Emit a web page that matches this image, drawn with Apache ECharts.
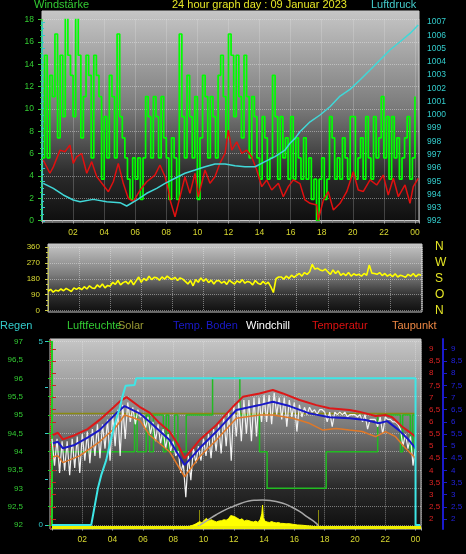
<!DOCTYPE html>
<html><head><meta charset="utf-8">
<script src="https://cdn.jsdelivr.net/npm/echarts@6/dist/echarts.min.js"></script>
<style>html,body{margin:0;padding:0;background:#000}#c{width:466px;height:554px}</style>
</head><body><div id="c"></div>
<script>
// ---------- top panel: wind (km/h) and pressure (hPa) ----------
// gust values every 10 minutes, 00:00 .. 24:00
const gust = [
 5.6,14.8,5.6,13,11.1,16.7,
 7.4,14.8,9.3,18.5,14.8,13,
 9.3,18.5,14.8,7.4,11.1,14.8,
 13,5.6,14.8,13,11.1,3.7,
 9.3,5.6,13,11.1,5.6,16.7,
 9.3,7.4,5.6,3.7,1.9,5.6,
 3.7,5.6,1.9,5.6,11.1,9.3,
 5.6,11.1,9.3,5.6,11.1,7.4,
 5.6,1.9,7.4,5.6,1.9,16.7,
 9.3,5.6,13,9.3,5.6,11.1,
 1.9,7.4,13,11.1,5.6,11.1,
 9.3,5.6,13,14.8,11.1,7.4,
 16.7,14.8,9.3,14.8,11.1,7.4,
 14.8,11.1,5.6,11.1,9.3,5.6,
 3.7,9.3,7.4,3.7,5.6,13,
 9.3,3.7,9.3,5.6,7.4,3.7,
 9.3,3.7,7.4,5.6,3.7,7.4,
 3.7,5.6,1.9,3.7,0,3.7,
 5.6,1.9,3.7,9.3,7.4,3.7,
 5.6,3.7,7.4,5.6,3.7,9.3,
 9.3,3.7,5.6,7.4,3.7,9.3,
 5.6,3.7,9.3,5.6,7.4,11.1,
 5.6,9.3,3.7,9.3,5.6,7.4,
 3.7,5.6,7.4,9.3,3.7,5.6,
 11.1];
const windAvgT = [0.08,0.51,0.73,1.16,1.48,1.8,2.01,2.23,2.55,2.88,3.2,3.52,3.94,4.27,4.59,4.91,5.23,5.55,5.88,6.31,6.74,7.27,7.59,7.92,8.13,8.24,8.56,8.88,9.2,9.52,9.85,10.06,10.49,10.81,11.13,11.45,11.78,11.99,12.21,12.53,12.85,13.17,13.49,13.82,14.14,14.46,14.78,15.21,15.53,15.85,16.17,16.6,16.92,17.25,17.68,17.78,18.1,18.42,18.75,19.18,19.61,20.03,20.35,20.68,21.11,21.54,21.96,22.28,22.61,22.93,23.36,23.68,23.89,24.21];
const windAvgV = [5.42,4.23,4.8,6.3,6.16,6.76,5.12,5.7,6.0,4.23,5.27,3.93,3.18,2.58,3.47,5.12,3.33,1.99,1.68,2.73,3.47,4.07,4.97,3.92,2.73,1.84,0.34,2.13,3.92,2.43,4.23,2.13,4.52,3.33,3.92,5.12,6.02,8.1,6.31,7.05,6.02,6.31,5.71,4.52,3.03,3.63,2.73,3.33,2.13,3.03,3.63,3.3,1.84,1.54,1.39,0.04,1.8,2.58,0.94,1.54,2.58,4.37,2.73,2.6,3.63,3.18,4.07,2.28,3.78,2.13,3.18,1.54,3.03,3.78];
const presT = [0.08,0.73,1.37,2.01,2.45,3.3,4.16,5.02,5.45,6.09,6.74,7.38,7.92,8.56,9.2,9.85,10.49,11.13,11.78,12.42,13.06,13.71,14.35,14.99,15.64,15.96,16.28,16.6,17.25,17.89,18.53,19.18,19.82,20.46,21.11,21.75,22.39,23.04,23.68,24.21];
const presV = [994.84,994.46,993.96,993.58,993.45,993.63,993.45,993.38,993.13,993.58,994.09,994.46,994.84,995.22,995.6,995.84,996.09,996.3,996.3,996.17,996.09,996.09,996.47,996.85,997.35,997.86,998.23,998.73,999.48,999.99,1000.61,1001.42,1001.92,1002.63,1003.38,1004.13,1004.89,1005.51,1006.14,1006.77];

// ---------- middle panel: wind direction (deg), every 10 minutes ----------
const windDir = [
 108,120,104,115,110,122,
 112,125,117,108,128,120,
 130,118,135,122,140,128,
 125,145,132,150,128,142,
 138,160,148,170,145,158,
 165,150,172,145,168,190,
 160,182,170,195,175,188,
 185,172,190,178,195,183,
 176,188,170,185,178,165,
 150,170,140,175,160,185,
 165,180,158,172,150,168,
 170,155,165,148,172,160,
 150,168,158,175,155,165,
 160,145,170,155,148,165,
 150,160,135,102,180,190,
 190,178,195,182,200,188,
 200,210,195,215,205,220,
 262,235,240,230,225,235,
 220,205,230,210,225,200,
 210,198,215,195,208,200,
 205,195,210,200,258,212,
 210,205,215,198,210,195,
 205,192,208,190,200,195,
 188,205,195,210,192,205,
 200];
const dirLabels = {0:'N',90:'O',180:'S',270:'W',360:'N'};

// ---------- bottom panel ----------
const regenT = [0,2.59,3.03,3.25,3.58,3.8,4.13,4.47,4.68,4.86,5.45,5.56,24.0,24.0,24.3];
const regenV = [0,0,1.0,1.36,1.77,2.18,2.73,3.19,3.55,3.8,3.82,4.0,4.0,0,0];
const humT = [0,5.45,5.62,6.22,6.44,6.7,7.35,7.54,7.7,8.09,8.31,8.86,10.6,12.4,13.7,14.2,18.1,21.5,23.0,23.15,23.65,23.8,23.95,24.05];
const humV = [94,95,94,95,94,95,94,95,94,95,94,95,96,95,94,93,94,95,94,95,94,95,94,94];
const humRefT = [0,24.05];
const humRefV = [95.04,95.04];
const tempT = [0.06,0.39,0.72,1.49,2.35,3.14,3.8,4.46,4.92,5.78,6.44,7.1,7.76,8.29,8.75,9.09,9.74,10.85,11.94,12.6,13.7,14.58,15.24,16.34,17.45,18.32,19.64,20.26,21.36,22.02,22.46,23.12,23.56,24.0];
const tempV = [5.46,5.55,5.28,5.45,5.7,6.08,6.45,6.83,7.02,6.62,6.38,5.95,5.6,5.1,4.5,4.75,5.25,5.87,6.62,7.03,7.17,7.31,7.17,6.9,6.69,6.56,6.49,6.42,6.24,6.28,6.19,5.8,5.6,5.39];
const bodenT = [0.06,0.39,0.72,1.49,2.35,3.14,4.24,4.79,5.78,6.44,7.76,8.75,9.74,10.85,12.17,13.7,14.58,15.68,17.0,18.32,19.64,20.7,21.58,22.13,22.9,23.56,24.0];
const bodenV = [5.12,5.18,4.91,5.05,5.35,5.66,6.35,6.65,6.35,6.0,5.25,4.22,4.91,5.6,6.49,6.69,6.83,6.65,6.35,6.19,6.15,6.08,5.94,6.03,5.66,5.25,4.91];
const taupT = [0.06,0.39,0.72,1.82,3.14,4.24,4.79,5.78,6.44,7.76,8.75,9.74,10.85,12.17,13.7,14.58,15.9,17.0,17.88,18.77,19.64,20.48,21.36,22.02,22.68,23.34,24.0];
const taupV = [4.56,4.6,4.32,4.6,5.18,5.8,6.28,6.08,5.46,4.77,3.74,4.56,5.25,6.15,6.28,6.28,6.15,5.94,5.66,5.73,5.66,5.6,5.39,5.6,5.39,4.91,4.5];
// windchill every 10 minutes
const windchill = [
 5.3,4.2,5.3,3.9,5.2,4.0,
 5.2,3.8,5.3,4.1,5.4,3.9,
 5.5,4.4,5.6,4.3,5.7,4.6,
 5.9,4.5,5.9,4.9,6.1,4.4,
 6.3,5.0,6.5,4.6,6.7,5.3,
 6.8,6.0,6.6,5.9,6.5,6.2,
 6.3,5.7,6.2,5.5,6.0,5.2,
 5.9,5.1,5.7,4.9,5.5,4.8,
 5.2,4.6,4.8,3.9,4.3,2.9,
 4.6,3.6,4.9,4.3,5.0,4.4,
 5.3,4.6,5.5,4.5,5.7,4.8,
 5.9,4.7,6.2,5.0,6.4,4.4,
 6.7,5.4,6.8,5.2,6.9,5.5,
 6.9,5.2,7.0,5.4,7.0,6.0,
 7.1,6.0,7.1,5.9,7.2,6.3,
 7.0,6.1,7.0,5.8,6.9,6.2,
 6.8,5.6,6.7,6.2,6.6,6.3,
 6.6,6.4,6.5,6.3,6.5,6.5,
 6.4,6.0,6.4,5.8,6.4,6.3,
 6.4,6.3,6.4,6.2,6.3,6.3,
 6.3,6.2,6.3,6.0,6.3,5.7,
 6.1,6.1,6.1,5.8,6.2,5.5,
 6.2,6.1,6.1,6.0,6.0,5.9,
 5.7,5.0,5.5,4.9,5.4,4.2,
 5.0];
const solarT = [8.9,9.1,9.3,9.5,9.6,9.75,9.9,10.05,10.2,10.35,10.5,10.65,10.85,11.0,11.2,11.35,11.5,11.65,11.8,11.9,12.05,12.2,12.4,12.55,12.7,12.85,13.0,13.15,13.3,13.45,13.6,13.75,13.85,13.9,13.95,14.05,14.2,14.35,14.5,14.65,14.8,14.95,15.1,15.25,15.45,15.65,15.9,16.2,16.5,16.8,17.1,17.4,17.6];
const solarV = [0,15,25,40,35,65,50,80,100,70,85,75,60,70,75,85,80,95,130,115,120,105,85,95,70,80,75,65,60,70,55,90,150,245,110,70,60,55,65,55,50,55,45,45,40,42,35,28,25,20,15,8,0];
const solarMaxT = [9.5,10.0,10.5,10.85,11.4,11.95,12.5,13.0,13.5,13.9,14.4,15.24,15.8,16.34,16.9,17.45,17.66];
const solarMaxV = [0,50,105,140,190,230,265,290,298,300,295,265,225,175,110,45,0];
const solarBaseT = [0,24.36];
const solarBaseV = [0,0];
const sunrise = 9.74, sunset = 17.55, sunMarkH = 190;

const zip = (t, v) => t.map((x, i) => [x, v[i]]);
const every10 = v => v.map((y, i) => [i / 6, y]);
const comma = v => String(+v.toFixed(2)).replace('.', ',');
const plain = v => String(Math.round(v));
const hourLabel = v => {
  const r = Math.round(v);
  if (v <= 0 || Math.abs(v - r) > 1e-6 || r % 2) return '';
  const h = r % 24; return (h < 10 ? '0' : '') + h;
};

const FONT = 'Liberation Sans';
const bg = {type:'linear',x:0,y:0,x2:0,y2:1,colorStops:[
  {offset:0,color:'#c6c6c6'},{offset:0.45,color:'#7c7c7c'},{offset:0.78,color:'#2a2a2a'},{offset:1,color:'#0e0e0e'}]};
const dots = {show:true,lineStyle:{color:'rgba(235,235,235,0.45)',type:'dotted',width:1}};
const G = (left, top, width, height, extra) => Object.assign({left, top, width, height, outerBoundsMode:'none', containLabel:false}, extra||{});
const bgGrid = (l,t,w,h) => G(l,t,w,h,{show:true,backgroundColor:bg,borderColor:'#c8c8c8',borderWidth:1});
const lbl = (color, size, extra) => Object.assign({color, fontSize:size, fontFamily:FONT}, extra||{});
const hidX = (gi, max) => ({type:'value', gridIndex:gi, min:0, max, show:false, splitLine:{show:false}});
const hidY = (gi, min, max) => ({type:'value', gridIndex:gi, min, max, show:false, splitLine:{show:false}});
const tt = (text, left, top, color) => ({text, left, top, padding:0, textStyle:{color, fontSize:11, fontWeight:'normal', fontFamily:FONT}});

const option = {
  backgroundColor:'#000',
  animation:false,
  title:[
    tt('Windstärke',34,-1,'#33cc33'),
    tt('24 hour graph day : 09 Januar 2023',172,-1,'#e6e626'),
    tt('Luftdruck',371,-1,'#44cccc'),
    tt('Regen',0,320,'#33cccc'),
    tt('Luftfeuchte',67,320,'#33cc33'),
    tt('Solar',118,320,'#999933'),
    tt('Temp. Boden',173,320,'#1a1acc'),
    tt('Windchill',246,320,'#ffffff'),
    tt('Temperatur',312,320,'#dd1111'),
    tt('Taupunkt',392,320,'#ee8844')
  ],
  grid:[
    bgGrid(42,11,377,211),       //0
    G(42,19.5,377,201),          //1 wind
    G(42,22,377,199),            //2 pressure
    bgGrid(48,244,374,68),       //3
    G(48,247,374,63.5),          //4 direction
    bgGrid(50,339,371,190),      //5
    G(52,341.7,369,183.3),       //6 humidity + rain
    G(52,349,369,170),           //7 temperatures
    G(52,344.5,369,183)          //8 solar
  ],
  xAxis:[
    hidX(0,1),
    {type:'value',gridIndex:1,min:0,max:24.26,interval:2,
      axisLine:{show:true,lineStyle:{color:'#c8c8c8'}},
      axisTick:{show:true,length:3,lineStyle:{color:'#aaa'}},
      minorTick:{show:true,splitNumber:3,length:2,lineStyle:{color:'#888'}},
      axisLabel:lbl('#d8d830',8.5,{margin:8,formatter:hourLabel}),
      splitLine:dots},
    hidX(2,24.26),
    hidX(3,1),
    {type:'value',gridIndex:4,min:0,max:24.06,interval:2,
      axisLine:{show:false},axisTick:{show:false},axisLabel:{show:false},splitLine:dots},
    hidX(5,1),
    {type:'value',gridIndex:6,min:0,max:24.36,interval:2,
      axisLine:{show:false},axisTick:{show:false},axisLabel:{show:false},splitLine:dots},
    hidX(7,24.36),
    {type:'value',gridIndex:8,min:0,max:24.36,interval:2,
      axisLine:{show:false},
      axisTick:{show:true,length:3,lineStyle:{color:'#aaa'}},
      minorTick:{show:true,splitNumber:3,length:2,lineStyle:{color:'#888'}},
      axisLabel:lbl('#d8d830',8.5,{margin:8,formatter:hourLabel}),
      splitLine:{show:false}}
  ],
  yAxis:[
    hidY(0,0,1),
    {type:'value',gridIndex:1,min:0,max:18,interval:2,position:'left',
      axisLine:{show:true,lineStyle:{color:'#44cc44',width:1.5}},
      axisTick:{show:true,length:4,lineStyle:{color:'#33cc33'}},
      minorTick:{show:true,splitNumber:4,length:2,lineStyle:{color:'#33cc33'}},
      axisLabel:lbl('#33cc33',8.5,{margin:8,formatter:plain}),
      splitLine:dots},
    {type:'value',gridIndex:2,min:992,max:1007,interval:1,position:'right',
      axisLine:{show:true,lineStyle:{color:'#33cccc',width:1.5}},
      axisTick:{show:true,length:3,lineStyle:{color:'#33cccc'}},
      minorTick:{show:true,splitNumber:2,length:2,lineStyle:{color:'#33cccc'}},
      axisLabel:lbl('#33cccc',8.5,{margin:8,formatter:plain}),
      splitLine:{show:false}},
    hidY(3,0,1),
    {type:'value',gridIndex:4,min:0,max:360,interval:90,position:'left',
      axisLine:{show:true,lineStyle:{color:'#bbbb66',width:1}},
      axisTick:{show:true,length:3,lineStyle:{color:'#cccc44'}},
      minorTick:{show:true,splitNumber:3,length:2,lineStyle:{color:'#cccc44'}},
      axisLabel:lbl('#dddd33',8,{margin:8,formatter:plain}),
      splitLine:dots},
    {type:'value',gridIndex:4,min:0,max:360,interval:90,position:'right',
      axisLine:{show:false},axisTick:{show:false},splitLine:{show:false},
      axisLabel:lbl('#e6e626',12,{margin:13,formatter:v=>dirLabels[v]||''})},
    {type:'value',gridIndex:5,min:0,max:1,position:'right',
      axisLine:{show:true,lineStyle:{color:'#cc2222',type:'dotted',width:1}},
      axisTick:{show:false},axisLabel:{show:false},splitLine:{show:false}},
    {type:'value',gridIndex:5,min:0,max:1,position:'right',offset:22,
      axisLine:{show:true,lineStyle:{color:'#1a1acc',width:2}},
      axisTick:{show:false},axisLabel:{show:false},splitLine:{show:false}},
    {type:'value',gridIndex:6,min:92,max:97,interval:0.5,position:'left',offset:22,
      axisLine:{show:true,lineStyle:{color:'#22cc22',width:2}},
      axisTick:{show:true,length:4,lineStyle:{color:'#22cc22'}},
      minorTick:{show:true,splitNumber:2,length:2,lineStyle:{color:'#22cc22'}},
      axisLabel:lbl('#33cc33',8,{margin:7,formatter:comma}),
      splitLine:dots},
    {type:'value',gridIndex:6,min:0,max:5,interval:1.25,position:'left',offset:4,
      axisLine:{show:false},
      axisTick:{show:true,length:3,lineStyle:{color:'#33cccc'}},
      axisLabel:lbl('#33cccc',8,{margin:5,formatter:v=>(v===0||v===5)?String(v):''}),
      splitLine:{show:false}},
    {type:'value',gridIndex:7,min:2,max:9,interval:0.5,position:'right',
      axisLine:{show:false},
      axisTick:{show:true,length:4,lineStyle:{color:'#cc2222'}},
      axisLabel:lbl('#dd2222',8,{margin:8,formatter:comma}),
      splitLine:{show:false}},
    {type:'value',gridIndex:7,min:2,max:9,interval:0.5,position:'right',offset:22,
      axisLine:{show:false},
      axisTick:{show:true,length:4,lineStyle:{color:'#1a1acc'}},
      axisLabel:lbl('#2222dd',8,{margin:8,formatter:comma}),
      splitLine:{show:false}},
    hidY(8,0,2000)
  ],
  series:[
    {name:'Windböen',type:'line',xAxisIndex:1,yAxisIndex:1,data:every10(gust),step:'end',
      symbol:'none',lineStyle:{color:'#00ff00',width:1.7},z:2},
    {name:'Wind',type:'line',xAxisIndex:1,yAxisIndex:1,data:zip(windAvgT,windAvgV),
      symbol:'none',lineStyle:{color:'#e01010',width:1.5},z:3},
    {name:'Luftdruck',type:'line',xAxisIndex:2,yAxisIndex:2,data:zip(presT,presV),
      symbol:'none',lineStyle:{color:'#40d8d8',width:1.5},z:4},
    {name:'Windrichtung',type:'line',xAxisIndex:4,yAxisIndex:4,data:every10(windDir),
      symbol:'none',lineStyle:{color:'#ffff00',width:1.6},z:3},
    {name:'Solar',type:'line',xAxisIndex:8,yAxisIndex:12,data:zip(solarT,solarV),
      symbol:'none',lineStyle:{color:'#ffff00',width:1},areaStyle:{color:'#ffff00',opacity:1},z:2},
    {name:'SolarMax',type:'line',xAxisIndex:8,yAxisIndex:12,data:zip(solarMaxT,solarMaxV),
      symbol:'none',smooth:true,lineStyle:{color:'#a8a8a8',width:1.5},z:2,
      markLine:{silent:true,symbol:'none',label:{show:false},
        lineStyle:{color:'#ffff00',type:'dotted',width:1},
        data:[[{coord:[sunrise,0]},{coord:[sunrise,sunMarkH]}],[{coord:[sunset,0]},{coord:[sunset,sunMarkH]}]]}},
    {name:'SolarBase',type:'line',xAxisIndex:8,yAxisIndex:12,data:zip(solarBaseT,solarBaseV),
      symbol:'none',lineStyle:{color:'#f0f000',width:3},z:6},
    {name:'Luftfeuchte2',type:'line',xAxisIndex:6,yAxisIndex:8,data:zip(humRefT,humRefV),
      symbol:'none',lineStyle:{color:'#8a8a10',width:1.5},z:2},
    {name:'Luftfeuchte',type:'line',xAxisIndex:6,yAxisIndex:8,data:zip(humT,humV),step:'end',
      symbol:'none',lineStyle:{color:'#22bb22',width:1.5},z:2},
    {name:'Windchill',type:'line',xAxisIndex:7,yAxisIndex:10,data:every10(windchill),
      symbol:'none',lineStyle:{color:'#f2f2f2',width:1.2},z:3},
    {name:'Taupunkt',type:'line',xAxisIndex:7,yAxisIndex:10,data:zip(taupT,taupV),
      symbol:'none',lineStyle:{color:'#e07828',width:1.5},z:4},
    {name:'Temp. Boden',type:'line',xAxisIndex:7,yAxisIndex:11,data:zip(bodenT,bodenV),
      symbol:'none',lineStyle:{color:'#1818c8',width:2},z:4},
    {name:'Temperatur',type:'line',xAxisIndex:7,yAxisIndex:10,data:zip(tempT,tempV),
      symbol:'none',lineStyle:{color:'#dd1818',width:2},z:5},
    {name:'Regen',type:'line',xAxisIndex:6,yAxisIndex:9,data:zip(regenT,regenV),
      symbol:'none',lineStyle:{color:'#3ee6e6',width:2},z:7}
  ]
};
const chart = echarts.init(document.getElementById('c'), null, {renderer:'canvas'});
chart.setOption(option);
</script>
</body></html>
